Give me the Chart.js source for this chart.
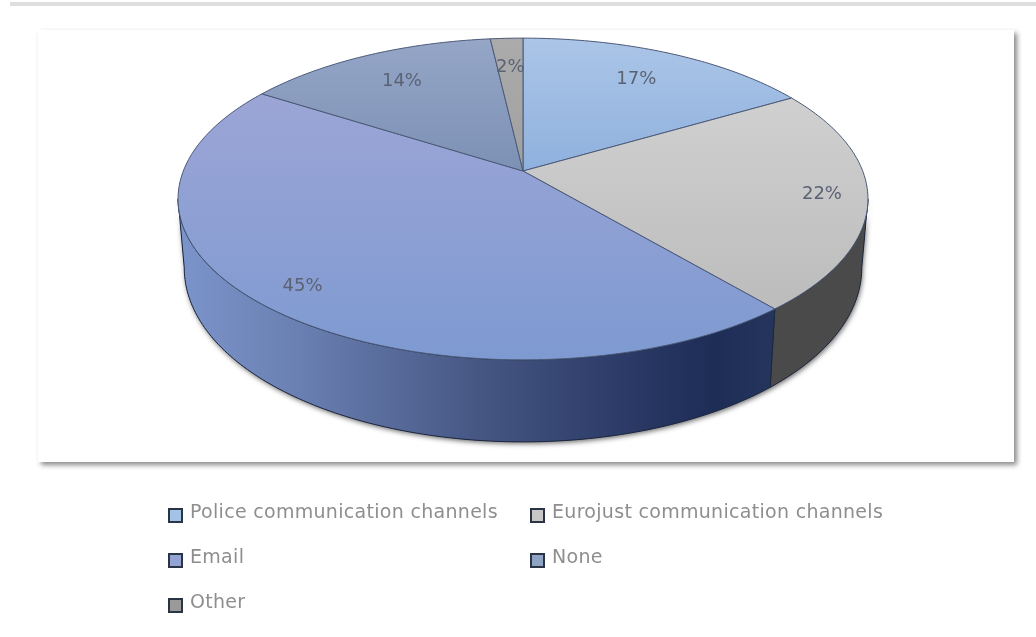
<!DOCTYPE html>
<html>
<head>
<meta charset="utf-8">
<title>Pie</title>
<script src="https://cdn.jsdelivr.net/npm/chart.js@4"></script>
<style>
  html, body { margin: 0; padding: 0; background: #fff; }
  canvas { display: block; filter: blur(0.6px); }
</style>
</head>
<body>
<canvas id="pieCanvas" width="1036" height="637"></canvas>
<script>
// ---------- data ----------
const categories = [
  "Police communication channels",
  "Eurojust communication channels",
  "Email",
  "None",
  "Other"
];
// printed rounded
const shares = [16.5, 22.4, 45.2, 14.1, 1.8];

// ---------- look ----------
const topColors = [
  ["#abc5e7", "#8fb1de"],
  ["#d0d0d0", "#bcbcbc"],
  ["#9ca5d6", "#7e9ad1"],
  ["#95a6c7", "#7c91b5"],
  ["#ababab", "#a0a0a0"]
];
const legendColors = ["#a3c2e6", "#c8c8c8", "#93a4d4", "#8fa3c4", "#9a9a9a"];
const labelRadius = [0.75, 0.87, 0.87, 0.75, 0.75];

// perspective of the pie top, apex of the slices at (cx, cy)
const cx = 523, cy = 171, rx = 339.7, ry = 156, tilt = -0.174;
const shrink = 0.982;

function project(a, r = 1) {
  const u = Math.sin(a) * r, v = -Math.cos(a) * r;
  const d = 1 + tilt * v;
  return { x: cx + rx * u / d, y: cy + ry * v / d };
}
function lower(p) {
  const t = p.y - cy;
  const v = t / (ry - tilt * t);
  return { x: cx + (p.x - cx) * shrink, y: p.y + 66 + 16 * v };
}

function rimPoints(a1, a2) {
  const pts = [];
  const n = Math.max(2, Math.ceil((a2 - a1) * 60));
  for (let i = 0; i <= n; i++) pts.push(project(a1 + (a2 - a1) * i / n));
  return pts;
}

function sideGradient(ctx, index) {
  if (index === 1) return "#4a4a4a";
  const g = ctx.createLinearGradient(180, 0, 775, 0);
  g.addColorStop(0, "#7b94ca");
  g.addColorStop(0.2, "#6a80b2");
  g.addColorStop(0.5, "#465784");
  g.addColorStop(0.75, "#2b3a66");
  g.addColorStop(0.9, "#1e2d56");
  g.addColorStop(1, "#26355c");
  return g;
}

// ---------- plugin : 3D drawing of the arcs computed by Chart.js ----------
const pie3d = {
  id: "pie3d",
  beforeDraw(chart) {
    const ctx = chart.ctx;
    ctx.save();
    ctx.fillStyle = "#dedede";
    ctx.fillRect(10, 2, 1026, 4);
    ctx.shadowColor = "#8a8a8a";
    ctx.shadowBlur = 5;
    ctx.shadowOffsetX = 3;
    ctx.shadowOffsetY = 3;
    ctx.fillStyle = "#fff";
    ctx.fillRect(38, 30, 976, 432);
    ctx.restore();
  },
  beforeDatasetsDraw(chart) {
    const ctx = chart.ctx;
    const arcs = chart.getDatasetMeta(0).data;
    const angles = arcs.map(el => {
      const p = el.getProps(["startAngle", "endAngle"], true);
      return [p.startAngle + Math.PI / 2, p.endAngle + Math.PI / 2];
    });
    const minSide = 100 * Math.PI / 180, maxSide = 260 * Math.PI / 180;

    // side wall
    ctx.save();
    const wall = new Path2D();
    const wallTop = rimPoints(minSide, maxSide);
    wallTop.forEach((p, i) => i ? wall.lineTo(p.x, p.y) : wall.moveTo(p.x, p.y));
    wallTop.slice().reverse().forEach(p => { const q = lower(p); wall.lineTo(q.x, q.y); });
    wall.closePath();
    ctx.shadowColor = "rgba(60,60,60,0.75)";
    ctx.shadowBlur = 5;
    ctx.shadowOffsetX = 1;
    ctx.shadowOffsetY = 2;
    ctx.fillStyle = "#444";
    ctx.fill(wall);
    ctx.restore();

    angles.forEach(([a1, a2], i) => {
      const s = Math.max(a1, minSide), e = Math.min(a2, maxSide);
      if (e <= s) return;
      const top = rimPoints(s, e);
      ctx.beginPath();
      top.forEach((p, k) => k ? ctx.lineTo(p.x, p.y) : ctx.moveTo(p.x, p.y));
      top.slice().reverse().forEach(p => { const q = lower(p); ctx.lineTo(q.x, q.y); });
      ctx.closePath();
      ctx.fillStyle = sideGradient(ctx, i);
      ctx.fill();
      ctx.strokeStyle = "#1c2740";
      ctx.lineWidth = 1;
      ctx.stroke();
    });

    // top face
    angles.forEach(([a1, a2], i) => {
      const rim = rimPoints(a1, a2);
      ctx.beginPath();
      ctx.moveTo(cx, cy);
      rim.forEach(p => ctx.lineTo(p.x, p.y));
      ctx.closePath();
      const ys = rim.map(p => p.y).concat(cy);
      const g = ctx.createLinearGradient(0, Math.min(...ys), 0, Math.max(...ys));
      g.addColorStop(0, topColors[i][0]);
      g.addColorStop(1, topColors[i][1]);
      ctx.fillStyle = g;
      ctx.fill();
      ctx.strokeStyle = "#4b5a78";
      ctx.lineWidth = 1;
      ctx.stroke();
    });

    // value labels
    ctx.font = "18px 'DejaVu Sans'";
    ctx.fillStyle = "#5b6274";
    ctx.textAlign = "center";
    ctx.textBaseline = "middle";
    angles.forEach(([a1, a2], i) => {
      const p = project((a1 + a2) / 2, labelRadius[i]);
      ctx.fillText(Math.round(chart.data.datasets[0].data[i]) + "%", p.x, p.y);
    });
    return false; // the flat arcs are replaced by the drawing above
  },
  afterDraw(chart) {
    // legend on two columns
    const ctx = chart.ctx;
    const cols = [169, 531], rows = [515, 560, 605];
    ctx.save();
    ctx.textAlign = "left";
    ctx.textBaseline = "middle";
    chart.data.labels.forEach((label, i) => {
      const x = cols[i % 2], y = rows[Math.floor(i / 2)];
      ctx.fillStyle = legendColors[i];
      ctx.strokeStyle = "#2b3444";
      ctx.lineWidth = 2;
      ctx.fillRect(x, y - 6, 13, 13);
      ctx.strokeRect(x, y - 6, 13, 13);
      ctx.fillStyle = "#8e8e8e";
      ctx.font = "19px 'DejaVu Sans'";
      ctx.letterSpacing = "0.3px";
      ctx.fillText(label, x + 21, y - 2);
    });
    ctx.restore();
  }
};

// ---------- chart ----------
new Chart(document.getElementById("pieCanvas"), {
  type: "pie",
  data: {
    labels: categories,
    datasets: [{ data: shares, backgroundColor: legendColors }]
  },
  options: {
    responsive: false,
    animation: false,
    plugins: { legend: { display: false }, tooltip: { enabled: false } }
  },
  plugins: [pie3d]
});
</script>
</body>
</html>
